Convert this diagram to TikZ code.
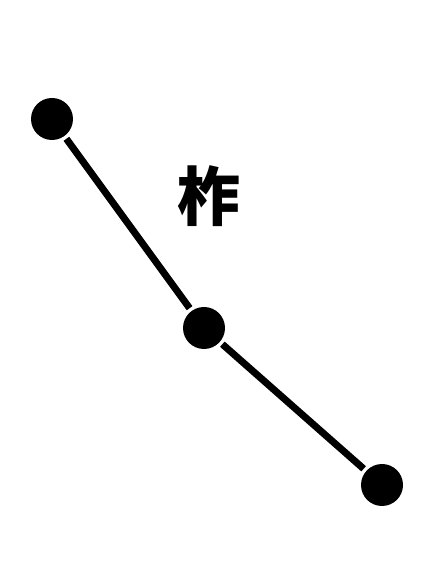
\documentclass[tikz,border=0pt]{standalone}
\usepackage{fontspec}
\newfontfamily\cjk{Noto Sans CJK SC}
\begin{document}
\begin{tikzpicture}[x=1pt,y=1pt]
		% \draw[help lines] (0,0) grid (433,586);
		\path[use as bounding box] (0,0) rectangle (433,586);
		\tikzstyle{every node}=[circle,minimum size=42pt,inner sep=0pt,fill=black]
		\tikzstyle{every path}=[solid,line width=7pt]
		
		%% Points
		\draw (52,467) node (p1) {};
		\draw (204,258) node (p2) {};
		\draw (382,101) node (p3) {};
		\path (p1) edge (p2);
		\path (p2) edge (p3);
		
		%% Label
		\draw (209,390) node [rectangle, fill=none, minimum size=0pt] (lbl) {\cjk\bfseries\fontsize{64}{64}\selectfont 柞};
		
	\end{tikzpicture}
\end{document}
